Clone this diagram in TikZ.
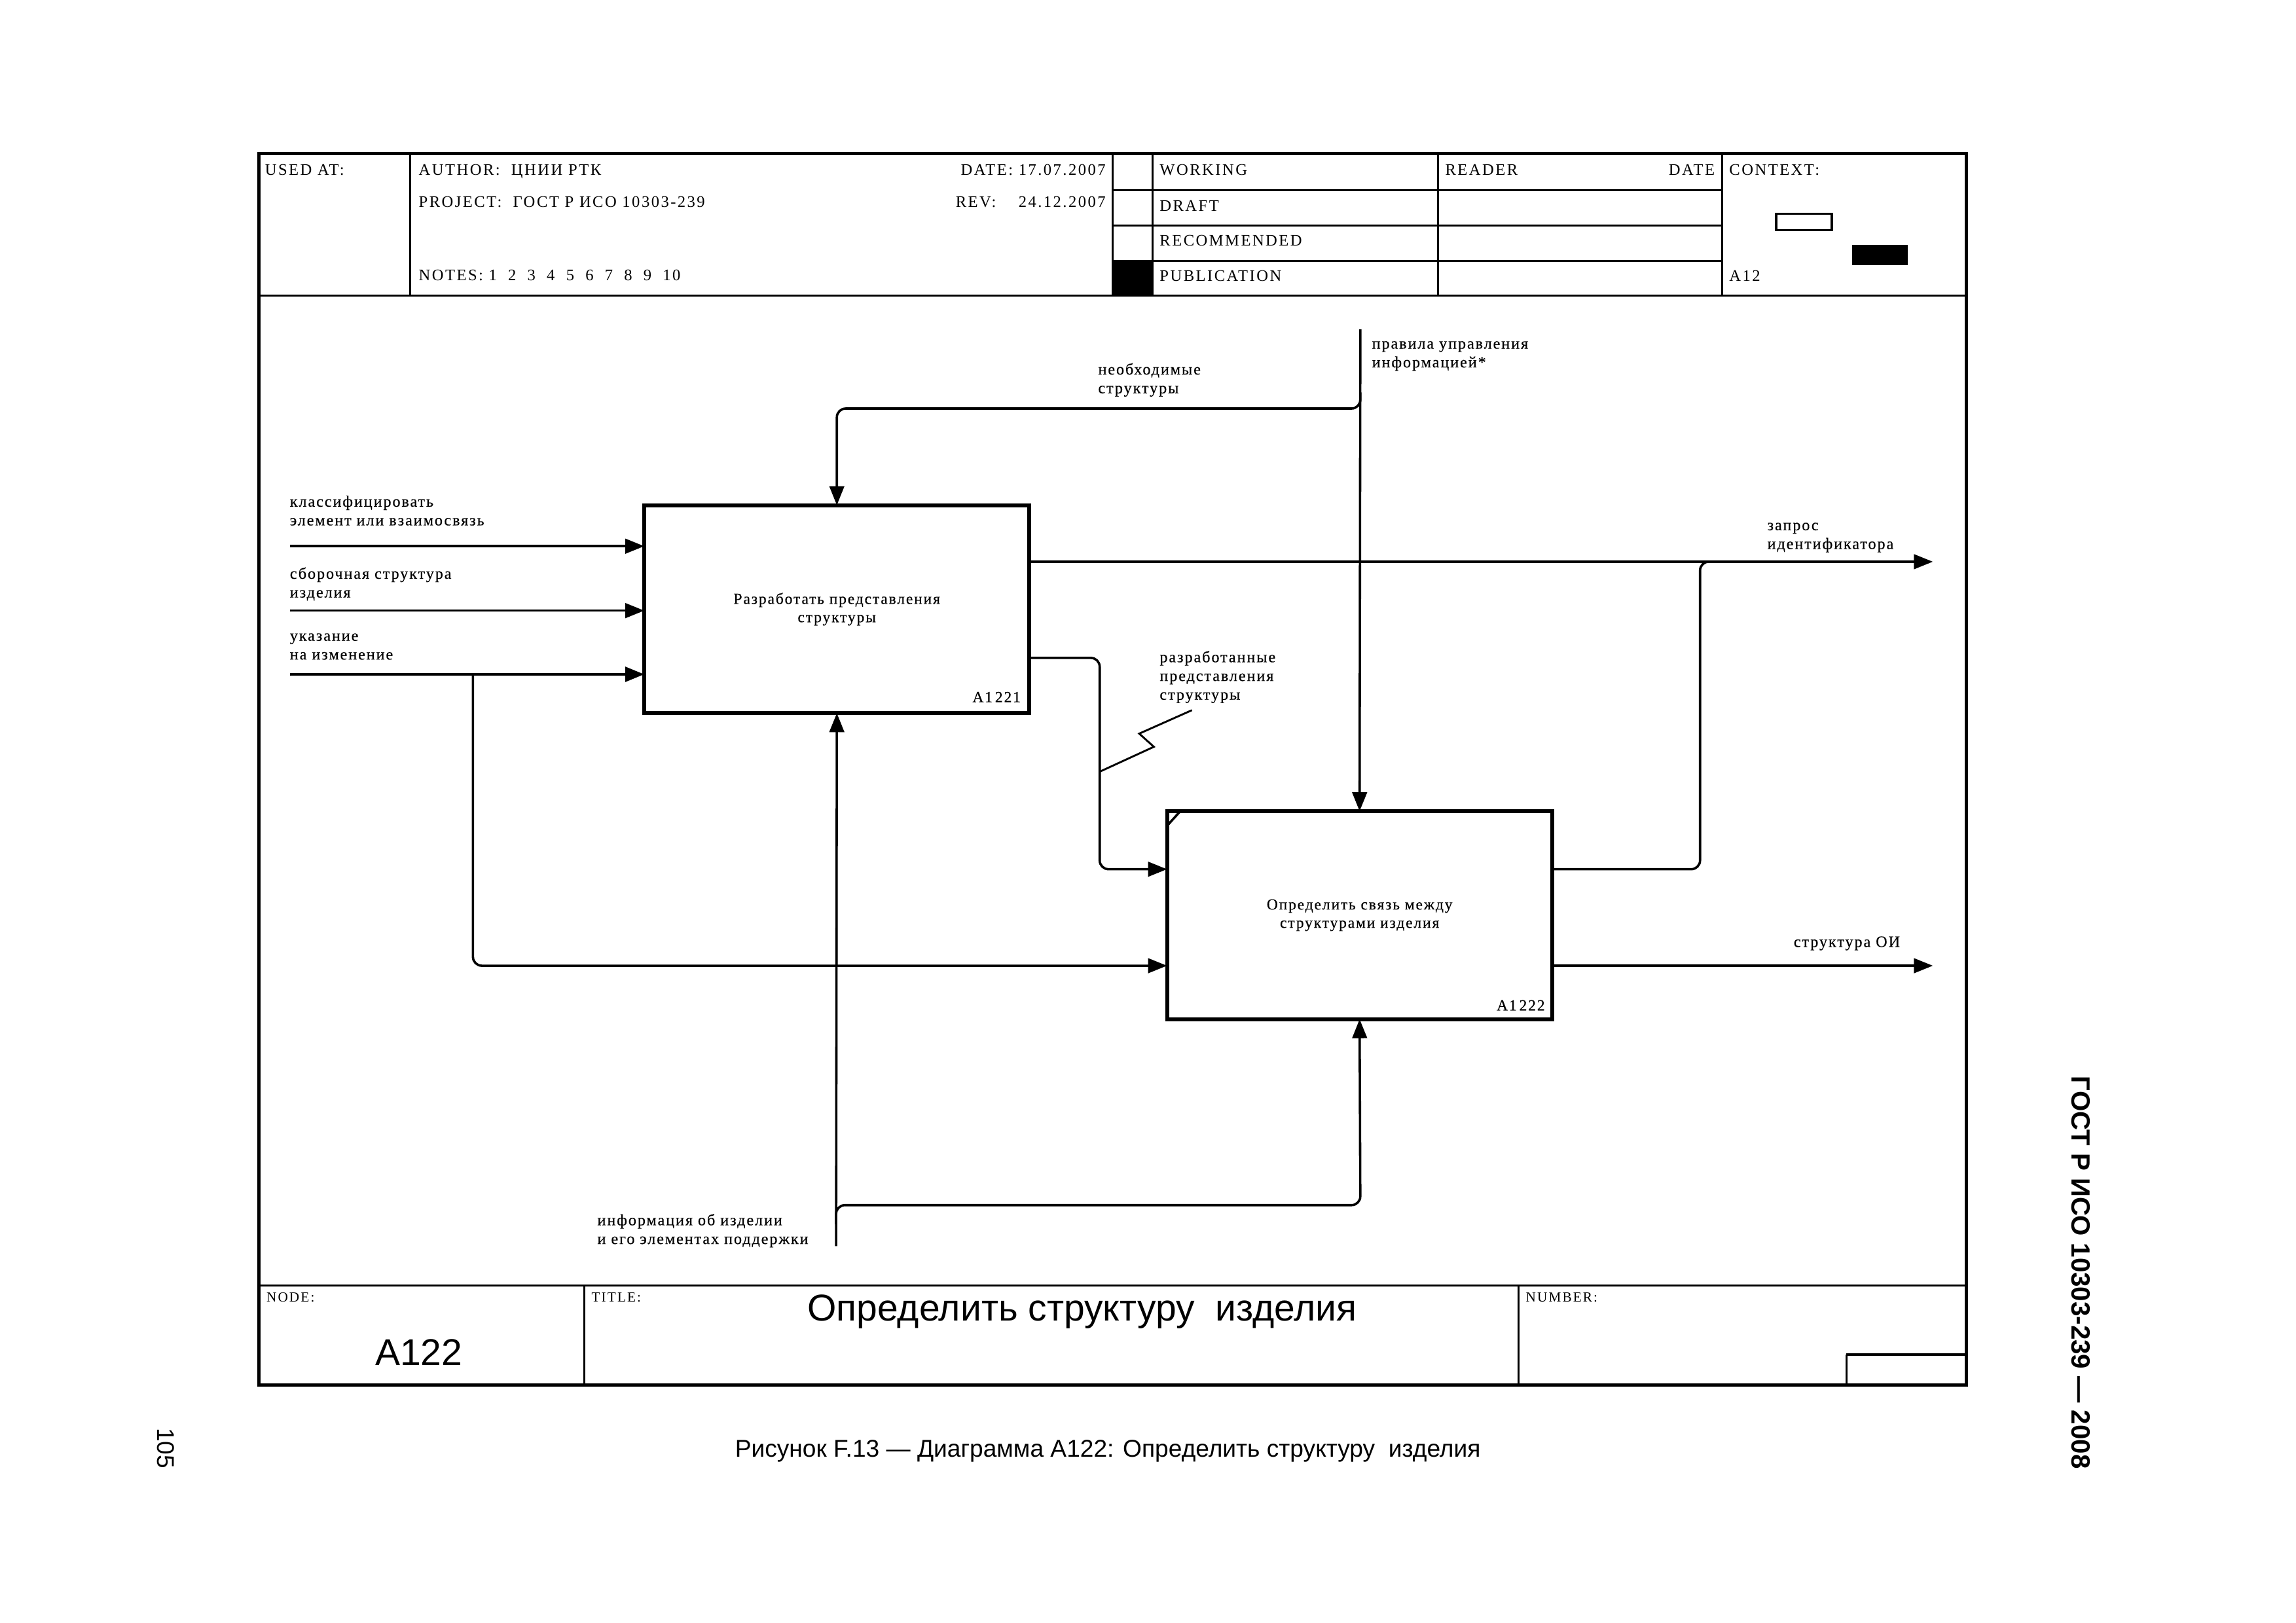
\documentclass[tikz,border=0pt]{standalone}
\usepackage{fontspec}
\setmainfont{Liberation Serif}
\newfontfamily\lbf[LetterSpace=8,FakeBold=0.4]{Liberation Serif}
\newfontfamily\hdf[LetterSpace=10]{Liberation Serif}
\newfontfamily\arf{Liberation Sans}
\usetikzlibrary{arrows.meta}
\begin{document}
\begin{tikzpicture}[x=1pt,y=-1pt,
  every node/.style={inner sep=0pt,outer sep=0pt},
  frame/.style={line width=2.2pt},
  rule/.style={line width=1.3pt},
  hd/.style={font=\hdf\fontsize{11}{13}\selectfont, anchor=base west},
  hdr/.style={font=\hdf\fontsize{11}{13}\selectfont, anchor=base east},
  sm/.style={font=\hdf\fontsize{9.5}{11}\selectfont, anchor=base west},
  lbl/.style={font=\lbf\fontsize{10.8}{12.8}\selectfont, align=left, anchor=north west},
  fun/.style={draw, line width=2.6pt, minimum width=263pt, minimum height=142pt,
    font=\lbf\fontsize{10.5}{12.5}\selectfont, align=center},
  boxid/.style={font=\lbf\fontsize{10.5}{12.5}\selectfont, anchor=base east},
  ln/.style={line width=1.6pt},
  arr/.style={line width=1.6pt, -{Triangle[length=13pt,width=10pt]}},
  rc/.style={rounded corners=6pt}]
\path[use as bounding box] (0,0) rectangle (1568,1108);

% ---------- frame ----------
\draw[frame] (177,105) rectangle (1343,946);
\draw[rule] (177,202) -- (1343,202);
\draw[rule] (177,878) -- (1343,878);
\foreach \x in {280,760,787,982,1176} \draw[rule] (\x,105) -- (\x,202);
\foreach \y in {130,154,178} \draw[rule] (760,\y) -- (1176,\y);
\fill (760,178) rectangle (787,202);
\draw[line width=1.4pt] (1213,146) rectangle (1251,157);
\fill (1265,167) rectangle (1303,181);
\draw[rule] (399,878) -- (399,946);
\draw[rule] (1037,878) -- (1037,946);
\draw[line width=2pt] (1261,925) -- (1343,925);
\draw[rule] (1261,925) -- (1261,946);

% ---------- header texts ----------
\node[hd] (usedat) at (181,119.5) {USED AT:};
\node[hd] (author) at (286,119.5) {AUTHOR:\ \ ЦНИИ РТК};
\node[hdr] (date) at (755,119.5) {DATE:\ 17.07.2007};
\node[hd] (project) at (286,141.5) {PROJECT:\ \ ГОСТ Р ИСО 10303-239};
\node[hdr] (rev) at (755,141.5) {REV:\ \ \ \ 24.12.2007};
\node[hd] (notes) at (286,191.5) {NOTES:\ 1\ \ 2\ \ 3\ \ 4\ \ 5\ \ 6\ \ 7\ \ 8\ \ 9\ \ 10};
\node[hd] (working) at (792,119.5) {WORKING};
\node[hd] (draft) at (792,144) {DRAFT};
\node[hd] (recom) at (792,168) {RECOMMENDED};
\node[hd] (public) at (792,192) {PUBLICATION};
\node[hd] (reader) at (987,119.5) {READER};
\node[hdr] (rdate) at (1171,119.5) {DATE};
\node[hd] (context) at (1181,119.5) {CONTEXT:};
\node[hd] (ctxid) at (1181,192) {A12};

% ---------- footer texts ----------
\node[sm] (nodelbl) at (182,889) {NODE:};
\node[sm] (titlelbl) at (404,889) {TITLE:};
\node[sm] (numlbl) at (1042,889) {NUMBER:};
\node[font=\arf\fontsize{25.5}{28}\selectfont, anchor=base] (title) at (739,902) {Определить структуру\ \ изделия};
\node[font=\arf\fontsize{25.5}{28}\selectfont, anchor=base] (nodeid) at (286,932.5) {A122};

\node[font=\arf\fontsize{16.6}{18}\selectfont, anchor=base west] (caption) at (502,995)
  {Рисунок F.13 — Диаграмма A122: Определить структуру\ \ изделия};
\node[font=\arf\bfseries\fontsize{18}{20}\selectfont, rotate=-90] (gost) at (1421,869) {ГОСТ Р ИСО 10303-239 — 2008};
\node[font=\arf\fontsize{16.5}{18}\selectfont, rotate=-90] (page) at (113,989) {105};

% ---------- activity boxes ----------
\node[fun] (b1) at (571.5,416) {Разработать представления\\структуры};
\node[fun] (b2) at (928.5,625) {Определить связь между\\структурами изделия};
\node[boxid] (b1id) at (697,479.5) {A1\,221};
\node[boxid] (b2id) at (1055,690) {A1\,222};
\draw[line width=1.6pt] (797,564) -- (806,554);

% ---------- free ends ----------
\coordinate (in1) at (198,373);
\coordinate (in2) at (198,417);
\coordinate (in3) at (198,460.5);
\coordinate (ctop) at (929,225);
\coordinate (mbot) at (571,851);
\coordinate (out1) at (1320,383.6);
\coordinate (out2) at (1320,659.5);

% ---------- inputs ----------
\draw[arr] (in1) -- (in1 -| b1.west);
\draw[arr] (in2) -- (in2 -| b1.west);
\draw[arr, line width=2pt] (in3) -- (in3 -| b1.west);
\draw[arr, rc] (323,460.5) -- (323,659.5) -- (b2.west |- out2);

% ---------- controls ----------
\draw[arr] (ctop) -- (b2.north);
\draw[arr, rc] (929,268) -- (929,279) -- (571.5,279) -- (b1.north);

% ---------- outputs ----------
\draw[arr] (b1.east |- out1) -- (out1);
\draw[ln, rc] (b2.east |- 0,593.6) -- (1161,593.6) -- (1161,383.6) -- (1175,383.6);
\draw[arr, rc] (b1.east |- 0,449.3) -- (751,449.3) -- (751,593.6) -- (b2.west |- 0,593.6);
\draw[arr] (b2.east |- out2) -- (out2);

% ---------- mechanisms ----------
\draw[arr] (mbot) -- (b1.south);
\draw[arr, rc] (571,836) -- (571,823) -- (929,823) -- (b2.south);

% squiggle
\draw[line width=1.3pt] (751,527) -- (788,510) -- (778,501) -- (814,485);

% ---------- labels ----------
\node[lbl] (l1) at (198,338.5) {классифицировать\\элемент или взаимосвязь};
\node[lbl] (l2) at (198,387.5) {сборочная структура\\изделия};
\node[lbl] (l3) at (198,432.5) {указание\\на изменение};
\node[lbl] (l4) at (750,248) {необходимые\\структуры};
\node[lbl] (l5) at (937,233) {правила управления\\информацией*};
\node[lbl] (l6) at (1207,357) {запрос\\идентификатора};
\node[lbl] (l7) at (792,444.5) {разработанные\\представления\\структуры};
\node[lbl, anchor=north east] (l8) at (1297.5,639.5) {структура ОИ};
\node[lbl] (l9) at (408,829) {информация об изделии\\и его элементах поддержки};
\end{tikzpicture}
\end{document}
